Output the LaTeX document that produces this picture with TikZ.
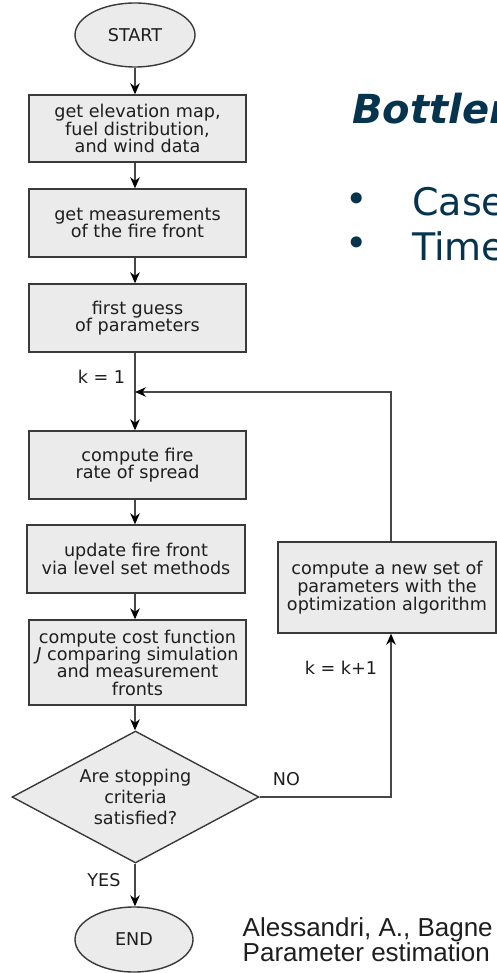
\documentclass[tikz,border=0pt]{standalone}
\usepackage{fontspec}
\setmainfont{DejaVu Sans}
\newfontfamily\citefont{Liberation Sans}
\usetikzlibrary{shapes.geometric,arrows.meta}
\definecolor{boxfill}{HTML}{EBEBEB}
\definecolor{boxdraw}{HTML}{3A3A3A}
\definecolor{navy}{HTML}{06344F}
\definecolor{ink}{HTML}{1E1E1E}
\begin{document}
\begin{tikzpicture}[x=1pt,y=-1pt,
  flowbox/.style={draw=boxdraw,fill=boxfill,line width=1.4pt,inner sep=0pt,align=center,font=\fontsize{17.6}{17.3}\selectfont,text=ink},
  proc/.style={flowbox,rectangle,minimum width=217pt,minimum height=68pt},
  term/.style={flowbox,ellipse,minimum width=120pt,minimum height=64pt},
  decide/.style={flowbox,diamond,aspect=1.87,minimum width=247pt,minimum height=132pt,font=\fontsize{17.6}{21}\selectfont},
  lbl/.style={inner sep=0pt,font=\fontsize{17.6}{17.3}\selectfont,text=ink},
  arr/.style={line width=1.4pt,draw=black!72,-{Stealth[length=11pt,width=9.5pt,inset=3.5pt,fill=black,color=black]}},
  bigtext/.style={inner sep=0pt,anchor=base west,text=navy,font=\fontsize{38}{40}\selectfont},
  cite/.style={inner sep=0pt,anchor=base west,text=ink,font=\citefont\fontsize{26}{26}\selectfont},
]
\path[use as bounding box,fill=white] (0,0) rectangle (497,973);

% flowchart
\node[term] (start) at (135,35) {START};
\node[proc,minimum height=67pt] (b1) at (137.5,128.5) {get elevation map,\\fuel distribution,\\and wind data};
\node[proc] (b2) at (137.5,223) {get measurements\\of the fire front};
\node[proc] (b3) at (137.5,318) {first guess\\of parameters};
\node[proc] (b4) at (137.5,465) {compute fire\\rate of spread};
\node[proc,minimum width=218pt] (b5) at (136,559) {update fire front\\via level set methods};
\node[proc,minimum height=85pt] (b6) at (137.5,662.5) {compute cost function\\\textit{J} comparing simulation\\and measurement\\fronts};
\node[decide] (dia) at (135.5,797) {Are stopping\\criteria\\satisfied?};
\node[term,minimum width=118pt,minimum height=65pt] (end) at (134,939.5) {END};
\node[proc,minimum width=218pt,minimum height=91pt,font=\fontsize{17.6}{17.8}\selectfont] (rb) at (387,587.5) {compute a new set of\\parameters with the\\optimization algorithm};

\coordinate (j) at (135,392);
\coordinate (nc) at (391,797);

% connectors
\draw[arr] (start) -- (start |- b1.north);
\draw[arr] (start |- b1.south) -- (start |- b2.north);
\draw[arr] (start |- b2.south) -- (start |- b3.north);
\draw[arr] (start |- b3.south) -- (start |- b4.north);
\draw[arr] (start |- b4.south) -- (start |- b5.north);
\draw[arr] (start |- b5.south) -- (start |- b6.north);
\draw[arr] (start |- b6.south) -- (start |- dia.north);
\draw[arr] (start |- dia.south) -- (start |- end.north);
\draw[arr] (dia.east) -- (nc) -- (nc |- rb.south);
\draw[arr] (nc |- rb.north) |- (j);

% labels
\node[lbl] (k1) at (101.5,377) {k = 1};
\node[lbl] (kk) at (341,668) {k = k+1};
\node[lbl] (no) at (286.5,779) {NO};
\node[lbl] (yes) at (104,880) {YES};

% slide text
\begin{scope}
\clip (0,0) rectangle (497,973);
\node[bigtext,font=\fontsize{40}{42}\selectfont\bfseries\itshape] (title) at (352,124) {Bottlen};
\node[inner sep=0pt,text=navy,font=\fontsize{38}{40}\selectfont] (bul1) at (357,203) {•};
\node[inner sep=0pt,text=navy,font=\fontsize{38}{40}\selectfont] (bul2) at (357,247) {•};
\node[bigtext] (case) at (412,216) {Case};
\node[bigtext] (time) at (412,261) {Time};
\node[cite] (cite1) at (242.5,936) {Alessandri, A., Bagne};
\node[cite] (cite2) at (242.5,961.5) {Parameter estimation};
\end{scope}
\end{tikzpicture}
\end{document}
